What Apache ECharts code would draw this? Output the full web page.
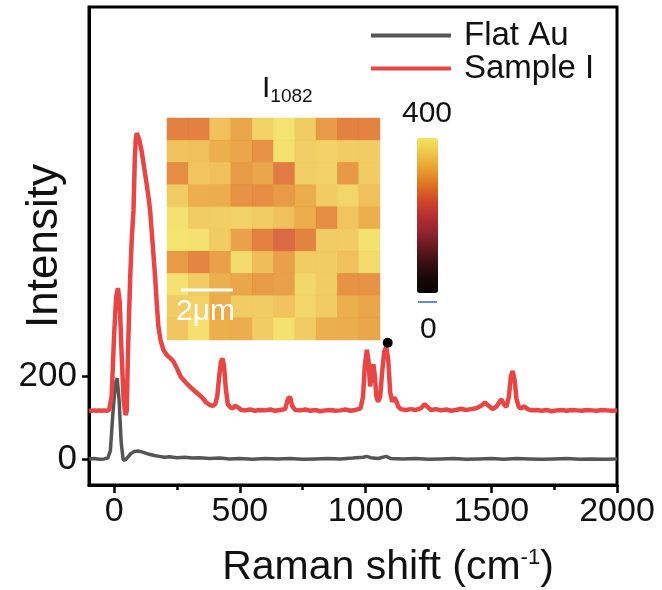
<!DOCTYPE html>
<html>
<head>
  <meta charset="UTF-8">
  <title>Raman</title>
  <script src="https://cdn.jsdelivr.net/npm/echarts@6/dist/echarts.min.js"></script>
</head>
<body style="margin:0">
  <div id="main" style="width: 662px; height:590px"></div>
  <script>
    // spectra: [Raman shift, intensity]
    var flatAu = [[-100,0],[-80,1],[-60,-1],[-40,0],[-25,2],[-15,20],[-5,110],[5,180],[12,195],[20,140],[28,40],[36,-3],[45,-2],[56,5],[65,12],[80,18],[95,19],[110,17],[125,14],[140,11],[160,8],[180,6],[200,4],[220,5],[250,3],[280,4],[310,2],[340,3],[380,1],[420,2],[460,0],[500,1],[550,-1],[600,1],[650,0],[700,1],[750,-1],[800,0],[850,1],[900,0],[950,2],[990,4],[1005,6],[1020,3],[1050,1],[1082,6],[1100,1],[1150,0],[1200,1],[1250,-1],[1300,0],[1350,1],[1400,-1],[1450,0],[1500,1],[1550,-1],[1600,1],[1650,0],[1700,-1],[1750,0],[1800,1],[1850,-1],[1900,0],[1950,-1],[2000,0]];
    var sampleI = [[-100,117],[-90,116],[-80,117],[-70,116],[-60,117],[-50,116],[-40,117],[-30,116],[-20,118],[-10,150],[0,300],[8,390],[15,412],[22,380],[30,250],[38,140],[45,106],[50,115],[56,280],[64,439],[70,530],[77,600],[82,720],[86,770],[90,786],[100,770],[110,740],[120,700],[130,660],[138,625],[143,600],[153,520],[163,439],[170,370],[176,319],[185,285],[196,263],[210,250],[223,243],[235,236],[250,218],[265,198],[282,186],[300,175],[318,165],[333,157],[350,148],[366,136],[380,130],[392,128],[402,132],[410,150],[418,200],[425,235],[431,242],[437,225],[444,170],[452,132],[462,124],[472,122],[480,128],[486,132],[494,124],[505,118],[520,117],[540,119],[560,116],[580,118],[600,117],[620,119],[640,116],[660,118],[680,120],[692,146],[700,149],[708,128],[720,118],[740,117],[760,119],[780,116],[800,118],[820,115],[840,117],[860,118],[880,116],[900,117],[920,119],[940,116],[960,118],[980,122],[990,150],[997,225],[1005,263],[1012,235],[1018,175],[1024,195],[1031,228],[1037,200],[1043,150],[1050,138],[1058,150],[1066,210],[1074,258],[1082,270],[1090,240],[1098,160],[1106,138],[1114,148],[1122,140],[1130,126],[1140,120],[1160,118],[1180,120],[1200,118],[1220,122],[1235,132],[1245,126],[1260,118],[1280,120],[1300,117],[1320,119],[1340,116],[1360,118],[1380,121],[1400,118],[1420,120],[1440,122],[1460,128],[1475,136],[1490,128],[1505,120],[1520,126],[1540,144],[1550,132],[1560,125],[1570,150],[1578,200],[1585,212],[1593,190],[1600,145],[1610,124],[1620,122],[1630,127],[1645,120],[1660,117],[1680,118],[1700,116],[1720,118],[1740,115],[1760,117],[1780,118],[1800,116],[1820,118],[1840,117],[1860,116],[1880,118],[1900,117],[1920,116],[1940,118],[1960,117],[1980,116],[2000,117]];
    var markedPeak = [[1088, 280]];

    var xTicks = [0, 500, 1000, 1500, 2000];
    var xMinorTicks = [250, 750, 1250, 1750];
    var yTicks = [0, 200];

    // I1082 map, rows top -> bottom
    var mapRows = [
      [272, 272, 344, 312, 366, 392, 360, 300, 272, 275],
      [348, 344, 322, 312, 290, 390, 362, 366, 360, 358],
      [285, 350, 344, 300, 312, 268, 362, 368, 298, 360],
      [360, 322, 320, 292, 286, 300, 318, 360, 374, 344],
      [390, 360, 362, 370, 360, 344, 318, 286, 350, 322],
      [392, 390, 360, 308, 272, 248, 275, 360, 360, 390],
      [300, 278, 305, 380, 340, 305, 360, 360, 344, 380],
      [390, 360, 322, 312, 300, 305, 376, 360, 292, 292],
      [360, 366, 318, 360, 360, 348, 374, 360, 322, 312],
      [352, 388, 322, 320, 360, 390, 360, 322, 320, 312]
    ];
    var mapRange = [0, 400];

    var font = "'Liberation Sans', Arial, sans-serif";
    var cells = [];
    mapRows.forEach(function (row, r) {
      row.forEach(function (v, c) { cells.push([c, r, v]); });
    });
    var idx = mapRows[0].map(function (d, i) { return i; });
    var plain = function (v) { return String(v); };

    var chart = echarts.init(document.getElementById('main'));
    var option = {
      animation: false,
      textStyle: { fontFamily: font },
      grid: [
        { left: 89, right: 45, top: 7, bottom: 105, show: true, borderColor: '#000', borderWidth: 3, outerBoundsMode: 'none' },
        { left: 167, top: 118, width: 213, height: 222, outerBoundsMode: 'none' }
      ],
      legend: {
        orient: 'vertical', left: 366, top: 14, itemWidth: 80, itemHeight: 4, itemGap: 0, icon: 'rect',
        data: ['Flat Au', 'Sample I'],
        textStyle: { fontSize: 33, lineHeight: 33, color: '#111', fontFamily: font, padding: [0, 0, 0, 8] }
      },
      xAxis: [
        {
          type: 'value', gridIndex: 0, min: -100, max: 2000, position: 'bottom',
          name: 'Raman shift (cm{sup|-1})', nameLocation: 'middle', nameGap: 62, nameMoveOverlap: false,
          nameTextStyle: {
            fontSize: 41, color: '#111', fontFamily: font, padding: [0, 0, 0, 70],
            rich: { sup: { fontSize: 22, verticalAlign: 'top', lineHeight: 22, fontFamily: font } }
          },
          axisLine: { onZero: false, lineStyle: { color: '#000', width: 3 } },
          axisTick: { customValues: xTicks, length: 8, lineStyle: { width: 2.5, color: '#000' } },
          axisLabel: { customValues: xTicks, formatter: plain, fontSize: 34, color: '#111', margin: 10 },
          splitLine: { show: false }
        },
        {
          type: 'value', gridIndex: 0, min: -100, max: 2000, position: 'bottom',
          axisLine: { show: false, onZero: false },
          axisTick: { customValues: xMinorTicks, length: 5, lineStyle: { width: 2.5, color: '#000' } },
          axisLabel: { show: false },
          splitLine: { show: false }
        },
        { type: 'category', gridIndex: 1, data: idx, show: false }
      ],
      yAxis: [
        {
          type: 'value', gridIndex: 0, min: -63, max: 1090,
          name: 'Intensity', nameLocation: 'middle', nameGap: 22, nameMoveOverlap: false,
          nameTextStyle: { fontSize: 44, color: '#111', fontFamily: font },
          axisLine: { onZero: false, lineStyle: { color: '#000', width: 3 } },
          axisTick: { customValues: yTicks, length: 7, lineStyle: { width: 2.5, color: '#000' } },
          axisLabel: { customValues: yTicks, formatter: plain, fontSize: 35, color: '#111', margin: 12 },
          splitLine: { show: false }
        },
        { type: 'category', gridIndex: 1, data: idx, inverse: true, show: false }
      ],
      visualMap: {
        type: 'continuous', min: mapRange[0], max: mapRange[1], seriesIndex: 3,
        left: 402, top: 123, itemWidth: 21, itemHeight: 155, calculable: false, text: null,
        inRange: { color: ['#080404', '#1a0808', '#3a1014', '#681a22', '#942430', '#b83030', '#d04a28', '#e07422', '#e8a030', '#efc44c', '#f3e45c'] }
      },
      graphic: [
        { type: 'text', left: 262, top: 74, style: { text: '{i|I}{s|1082}', fill: '#111', rich: {
          i: { fontSize: 30, fontFamily: font, lineHeight: 32, verticalAlign: 'top' },
          s: { fontSize: 19, fontFamily: font, lineHeight: 32, verticalAlign: 'bottom', padding: [12, 0, 0, 0] } } } },
        { type: 'text', left: 402, top: 99, style: { text: '400', fontSize: 30, fontFamily: font, fill: '#111' } },
        { type: 'text', left: 420, top: 315, style: { text: '0', fontSize: 30, fontFamily: font, fill: '#111' } },
        { type: 'line', shape: { x1: 418, y1: 302, x2: 437, y2: 302 }, style: { stroke: '#3a5fd0', lineWidth: 1.5 } },
        { type: 'line', z: 100, shape: { x1: 181, y1: 290, x2: 233, y2: 290 }, style: { stroke: '#fff', lineWidth: 3 } },
        { type: 'text', z: 100, left: 176, top: 297, style: { text: '2μm', fontSize: 30, fontFamily: font, fill: '#fff' } }
      ],
      series: [
        {
          name: 'Flat Au', type: 'line', xAxisIndex: 0, yAxisIndex: 0, data: flatAu, symbol: 'none',
          lineStyle: { color: '#555', width: 3.5 }, itemStyle: { color: '#555' }
        },
        {
          name: 'Sample I', type: 'line', xAxisIndex: 0, yAxisIndex: 0, data: sampleI, symbol: 'none',
          lineStyle: { color: '#e84545', width: 4.5 }, itemStyle: { color: '#e84545' }
        },
        {
          type: 'scatter', xAxisIndex: 0, yAxisIndex: 0, data: markedPeak, symbolSize: 10,
          itemStyle: { color: '#000', opacity: 1 }, z: 5
        },
        {
          type: 'heatmap', xAxisIndex: 2, yAxisIndex: 1, data: cells, z: 10,
          itemStyle: { opacity: 0.86 }, emphasis: { disabled: true }
        }
      ]
    };
    chart.setOption(option);
  </script>
</body>
</html>
